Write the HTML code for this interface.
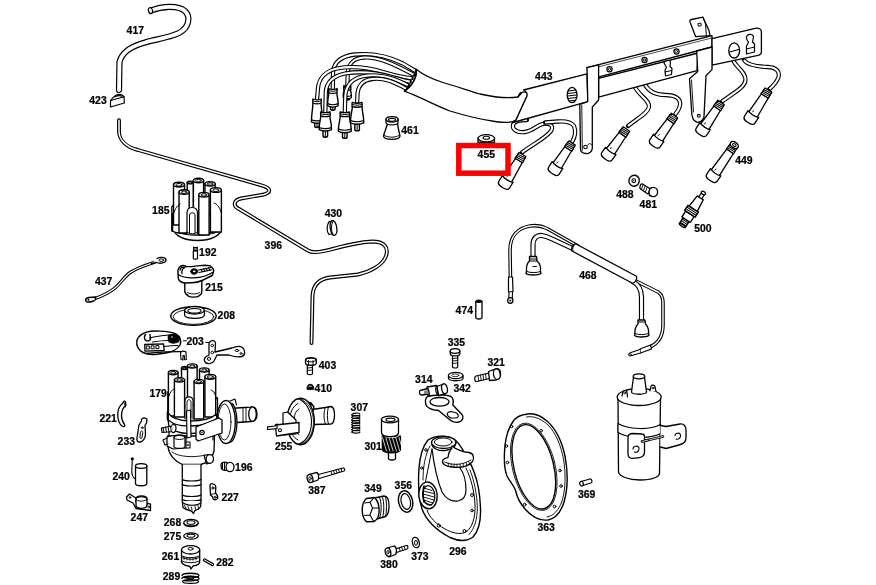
<!DOCTYPE html>
<html><head><meta charset="utf-8">
<style>
html,body{margin:0;padding:0;background:#fff;width:876px;height:585px;overflow:hidden}
svg{display:block}
text{font-family:"Liberation Sans",sans-serif;font-weight:bold;font-size:11.6px;fill:#000;stroke:#000;stroke-width:0.25px;letter-spacing:0px}
#labels{will-change:transform}
</style></head><body>
<svg width="876" height="585" viewBox="0 0 876 585">
<g id="parts" fill="none" stroke="#000" stroke-linejoin="round" stroke-linecap="round" stroke-width="1.2">
<path d="M151,10.5 C162,6 178,5 185,11 C191,17 189,27.5 179,33 C168,38 155,39.5 145,42.5 C132,46 122,51.5 119.5,62 L119,90" stroke-width="6.2" />
<path d="M151,10.5 C162,6 178,5 185,11 C191,17 189,27.5 179,33 C168,38 155,39.5 145,42.5 C132,46 122,51.5 119.5,62 L119,90" stroke="#fff" stroke-width="3.8" stroke-linecap="round"/>

<ellipse cx="150.5" cy="10.6" rx="2" ry="3" transform="rotate(-20 150.5 10.6)" fill="#fff"/>
<path d="M110.5,107 L110.5,100.5 C112,98.5 113.5,97 115.5,95.5 C118,94 121.5,94 124,96.5 L124.3,103 Z" fill="#fff"/>
<path d="M111,100.5 C115,99 120,98 124,97"/>
<path d="M115,96.8 C117.5,95.5 120,95.5 122,96.3"/>
<path d="M119,120.3 L119,132 C119.5,140 126,147 138,150 L263,185.8 C270,188 272,192 264,194.5 L241,198.5 C233,200.5 233,206 239,209 L308,250.5 C312,253 318,253 330,249.7 C345,245.5 362,242 372,241.5 C384,241.5 389,247 386,256 C383,265 370,272 358,274.5 L330,277.5 C319,279 313,285 312.5,296 L311.5,343" stroke-width="3.9" />
<path d="M119,120.3 L119,132 C119.5,140 126,147 138,150 L263,185.8 C270,188 272,192 264,194.5 L241,198.5 C233,200.5 233,206 239,209 L308,250.5 C312,253 318,253 330,249.7 C345,245.5 362,242 372,241.5 C384,241.5 389,247 386,256 C383,265 370,272 358,274.5 L330,277.5 C319,279 313,285 312.5,296 L311.5,343" stroke="#fff" stroke-width="1.5" stroke-linecap="round"/>

<!-- 179.svg -->
<path d="M230,408.5 L251,407 C255,406.5 257,409 257,414 C257,419 255,421.5 251,421.5 L230,423" fill="#fff" stroke-width="1.3"/>
<ellipse cx="252.5" cy="414.2" rx="3.8" ry="7.3" fill="#fff" stroke-width="1.3"/>
<path d="M243,407.5 L243,422.5 M246,407.3 L246,422.2" stroke-width="0.9"/>
<ellipse cx="229" cy="422" rx="8" ry="20.5" fill="#fff" stroke-width="1.3"/>
<ellipse cx="226" cy="422" rx="9.3" ry="21.5" fill="#fff" stroke-width="1.4"/>
<ellipse cx="224.5" cy="422" rx="6.5" ry="18" stroke-width="0.9"/>
<path d="M229,401.5 L235,399 L236.5,405" fill="#fff" stroke-width="1.1"/>
<path d="M167.5,436 L168,447 C169,455 175,461.5 182.3,464.5 L201,464.5 C207,463 212.5,458.5 214,451 L214.5,436 Z" fill="#fff" stroke-width="1.3"/>
<path d="M172,452 C178,457 195,458 205,455" stroke-width="0.9"/>
<path d="M182.3,464.5 L182.3,501 C182.3,503.5 201,503.5 201,501 L201,464.5" fill="#fff" stroke-width="1.3"/>
<path d="M182.3,479.5 C185,481.5 198,481.5 201,479.5 M182.3,484.5 C185,486.5 198,486.5 201,484.5 M182.3,495 C185,497 198,497 201,495 M182.3,499.5 C185,501.5 198,501.5 201,499.5" stroke-width="1.1"/>
<path d="M182.3,501 L183,507.5 C186,510 189,510 191.5,511 L193.5,513.5 L195,510.5 C198,509.5 200.5,508 200.7,506 L201,501" fill="#fff" stroke-width="1.3"/>
<path d="M183.5,503 C187,506 197,506 200.5,503" stroke-width="1.2"/>
<path d="M184.5,505.5 L186,508.5 M188,506.5 L189,509.5 M191.5,507 L192,510 M195,506.5 L195.5,509.5 M198,505.5 L198.5,508" stroke-width="0.9"/>
<path d="M204,455.5 L208,454.5 L211.5,462.5 L206.5,464 Z" fill="#fff" stroke-width="1.2"/>
<ellipse cx="209.8" cy="459" rx="3.7" ry="4.3" fill="#fff" stroke-width="1.3"/>
<path d="M167.8,392 L167.8,420 C170,430 205,432 217.5,420 L217.5,398 Z" fill="#fff" stroke-width="1.3"/>
<path d="M168.5,420 L168.5,424 C170,436 205,437 217.5,425 L217.5,420" fill="#fff" stroke-width="1.3"/>
<path d="M169,430 L169,440 M213,432 L213,440" stroke-width="1.2"/>
<path d="M168.4,372.6 L168.4,416.0 L178.0,416.0 L178.0,372.6" fill="#fff" stroke-width="1.4"/>
<ellipse cx="173.2" cy="372.6" rx="4.8" ry="2.1" fill="#fff" stroke-width="1.4"/>
<ellipse cx="173.2" cy="372.8" rx="2.6" ry="1.2" stroke-width="1"/>
<path d="M181.5,368.0 L181.5,405.0 L188.1,405.0 L188.1,368.0" fill="#fff" stroke-width="1.4"/>
<ellipse cx="184.8" cy="368.0" rx="3.3" ry="1.5" fill="#fff" stroke-width="1.4"/>
<ellipse cx="184.8" cy="368.2" rx="1.8" ry="0.8" stroke-width="1"/>
<path d="M187.5,366.0 L187.5,405.0 L197.1,405.0 L197.1,366.0" fill="#fff" stroke-width="1.4"/>
<ellipse cx="192.3" cy="366.0" rx="4.8" ry="2.1" fill="#fff" stroke-width="1.4"/>
<ellipse cx="192.3" cy="366.2" rx="2.6" ry="1.2" stroke-width="1"/>
<path d="M199.5,370.0 L199.5,408.0 L209.1,408.0 L209.1,370.0" fill="#fff" stroke-width="1.4"/>
<ellipse cx="204.3" cy="370.0" rx="4.8" ry="2.1" fill="#fff" stroke-width="1.4"/>
<ellipse cx="204.3" cy="370.2" rx="2.6" ry="1.2" stroke-width="1"/>
<path d="M204.9,376.8 L204.9,417.0 L215.7,417.0 L215.7,376.8" fill="#fff" stroke-width="1.4"/>
<ellipse cx="210.3" cy="376.8" rx="5.4" ry="2.4" fill="#fff" stroke-width="1.4"/>
<ellipse cx="210.3" cy="377.0" rx="3.0" ry="1.3" stroke-width="1"/>
<path d="M174.4,379.8 L174.4,417.0 L184.6,417.0 L184.6,379.8" fill="#fff" stroke-width="1.4"/>
<ellipse cx="179.5" cy="379.8" rx="5.0" ry="2.2" fill="#fff" stroke-width="1.4"/>
<ellipse cx="179.5" cy="380.0" rx="2.8" ry="1.2" stroke-width="1"/>
<path d="M194.1,381.5 L194.1,419.0 L203.7,419.0 L203.7,381.5" fill="#fff" stroke-width="1.4"/>
<ellipse cx="198.9" cy="381.5" rx="4.8" ry="2.1" fill="#fff" stroke-width="1.4"/>
<ellipse cx="198.9" cy="381.7" rx="2.6" ry="1.2" stroke-width="1"/>
<path d="M169,396 C170,392 172,390 174,389" stroke-width="1"/>
<path d="M216,399 C215.5,394 214,391 211,390" stroke-width="1"/>
<path d="M167.8,412.7 C172,419 182,421 190,421 C200,421 211,419 216.5,413.9 L216.8,418.5 C211,424 200,426 190,426 C181,426 171,424 168,418.7 Z" fill="#fff" stroke-width="1.3"/>
<path d="M167.8,412 L167.8,419" stroke-width="2.2"/>
<path d="M185,419 L185,401 C185,395.5 193,395.5 193,401 L193,419" fill="#fff" stroke-width="1.1"/>
<path d="M187,418 L187,402 C187,399 191,399 191,402 L191,418" stroke-width="0.9"/>
<path d="M186.5,411 L190.5,410 L191,437 L187,438 Z" fill="#fff" stroke-width="1.2"/>
<path d="M196,427 L219,418 L222,420 L222,433 L198,441 L196,439 Z" fill="#fff" stroke-width="1.3"/>
<circle cx="202" cy="432.5" r="2.2" stroke-width="1.2"/>
<circle cx="202" cy="432.5" r="0.7" fill="#000" stroke="none"/>
<path d="M161.5,428 L172,426 L173.5,431.5 L162,432.5 Z" fill="#fff" stroke-width="1.2"/>
<path d="M163,427.5 L164,432.3 M165.5,427 L166.5,432.1 M168,426.7 L169,431.9 M170.5,426.3 L171.3,431.7" stroke-width="1"/>
<path d="M172,425 C174,424 176,424.5 176,428 C176,431.5 174,433 172.5,432.5" fill="#fff" stroke-width="1.2"/>
<path d="M167,437 L173,435.5 L186,436 L186,448 L173,449 L167,446 Z" fill="#fff" stroke-width="1.2"/>
<path d="M174,437.5 C174,434 185,434 185,437.5 L185,446.5 C185,449 174,449 174,446.5 Z" fill="#fff" stroke-width="1.2"/>
<ellipse cx="179.5" cy="437.5" rx="5.5" ry="2" stroke-width="1"/>
<path d="M186,442 L190,442 L190,448 L186,448" stroke-width="1.1"/>
<circle cx="188" cy="445" r="0.9" fill="#000" stroke="none"/>
<path d="M167,438 L163,440 L165,445 L168,444" stroke-width="1.1"/>

<!-- 185.svg -->
<path d="M174,229 C174,236 185,240.5 197.5,240.5 C210,240.5 221,236 221,229 Z" fill="#fff" stroke-width="1.4"/>
<path d="M176,231.5 C184,236.5 210,237 219,231" stroke-width="1"/>
<path d="M172,231 L171.8,207 C175,202 184,199 197,199 C210,199 219,203 221.3,208 L221.3,229 C214,235 180,235 172,231 Z" fill="#fff" stroke-width="1.3"/>
<path d="M172.3,214 L172.3,231" stroke-width="2"/>
<path d="M173.5,184.6 L173.5,225.0 L184.5,225.0 L184.5,184.6" fill="#fff" stroke-width="1.4"/>
<ellipse cx="179.0" cy="184.6" rx="5.5" ry="2.4" fill="#fff" stroke-width="1.4"/>
<ellipse cx="179.0" cy="184.8" rx="3.0" ry="1.3" stroke-width="1"/>
<path d="M187.2,182.5 L187.2,212.0 L193.4,212.0 L193.4,182.5" fill="#fff" stroke-width="1.4"/>
<ellipse cx="190.3" cy="182.5" rx="3.1" ry="1.4" fill="#fff" stroke-width="1.4"/>
<ellipse cx="190.3" cy="182.7" rx="1.7" ry="0.8" stroke-width="1"/>
<path d="M193.4,180.5 L193.4,214.0 L203.6,214.0 L203.6,180.5" fill="#fff" stroke-width="1.4"/>
<ellipse cx="198.5" cy="180.5" rx="5.1" ry="2.2" fill="#fff" stroke-width="1.4"/>
<ellipse cx="198.5" cy="180.7" rx="2.8" ry="1.2" stroke-width="1"/>
<path d="M205.0,183.8 L205.0,214.0 L215.2,214.0 L215.2,183.8" fill="#fff" stroke-width="1.4"/>
<ellipse cx="210.1" cy="183.8" rx="5.1" ry="2.2" fill="#fff" stroke-width="1.4"/>
<ellipse cx="210.1" cy="184.0" rx="2.8" ry="1.2" stroke-width="1"/>
<path d="M210.4,190.0 L210.4,232.0 L221.4,232.0 L221.4,190.0" fill="#fff" stroke-width="1.4"/>
<ellipse cx="215.9" cy="190.0" rx="5.5" ry="2.4" fill="#fff" stroke-width="1.4"/>
<ellipse cx="215.9" cy="190.2" rx="3.0" ry="1.3" stroke-width="1"/>
<path d="M179.0,192.0 L179.0,233.0 L189.2,233.0 L189.2,192.0" fill="#fff" stroke-width="1.4"/>
<ellipse cx="184.1" cy="192.0" rx="5.1" ry="2.2" fill="#fff" stroke-width="1.4"/>
<ellipse cx="184.1" cy="192.2" rx="2.8" ry="1.2" stroke-width="1"/>
<path d="M198.8,194.7 L198.8,235.0 L209.1,235.0 L209.1,194.7" fill="#fff" stroke-width="1.4"/>
<ellipse cx="203.9" cy="194.7" rx="5.2" ry="2.3" fill="#fff" stroke-width="1.4"/>
<ellipse cx="203.9" cy="194.9" rx="2.8" ry="1.2" stroke-width="1"/>
<path d="M173.5,214 C175,208 178,205 180,204" stroke-width="1"/>
<path d="M221,212 C219,206 217,204 214,203" stroke-width="1"/>
<path d="M187,234 L187,213 C187,209 189,207.5 192,207.5 C195,207.5 197.5,209 197.5,213 L197.5,234" fill="#fff" stroke-width="1.2"/>
<path d="M189.5,233 L189.5,215 C189.5,212 195,212 195,215 L195,233" stroke-width="1"/>
<path d="M187,232 C190,234.5 195,234.5 197.5,232" stroke-width="1"/>

<!-- 192_215_208.svg -->
<!-- 192 pin -->
<path d="M193.3,251 L193.3,258.5 C193.3,259.5 197.5,259.5 197.5,258.5 L197.5,251 Z" fill="#fff"/>
<path d="M193.6,247 L193.6,251.5 M197.3,247 L197.3,251.5 M193.6,247.5 L197.3,247.5 M193.6,249 L197.3,249 M193.6,250.5 L197.3,250.5" stroke-width="1"/>
<!-- 215 rotor -->
<path d="M184.8,281 L184.8,292 C185.5,294 187,295 188,295.5 L188,296 C190,297.5 197,297.5 199,296 L199,295.5 C200.5,295 201.8,293.5 201.8,291.5 L201.8,280" fill="#fff" stroke-width="1.4"/>
<path d="M187.5,292.5 C190,294.5 197,294.5 199.5,292.5" stroke-width="1"/>
<path d="M178,272 C177.5,269 179.5,266 182.8,265.5 C184.5,265.3 185.5,266.3 186.4,266.6 L191.4,266.6 L197.1,265.9 L205,265.2 C208,265.2 210,265.5 211,266.5 C213,268 214,270 213.6,271.5 L212.2,275.5 L202.1,280.5 C199,282 196,282.7 192,282.8 L185,283 C181.5,282.5 178.8,281 178.3,278.5 Z" fill="#fff" stroke-width="1.4"/>
<path d="M178.2,274.5 C181,276.5 188,278 194,277.8 C201,277.5 208,275.5 212.5,272.5" stroke-width="1.2"/>
<path d="M180,270 C180.5,267.5 183,266.5 185,267.5 C182.5,268.5 181.5,271 182,273.5" stroke-width="1.3"/>
<path d="M190.8,271.5 C190.5,269.5 192.5,268.7 194.5,268.8 C197,269 198,270.2 197.7,271.8 C197.4,273.5 195.5,274.3 193.5,274.2 C191.8,274 190.9,273 190.8,271.5 Z" fill="#000" stroke-width="1"/>
<ellipse cx="194.2" cy="271.4" rx="1.3" ry="0.8" fill="#fff" stroke="none"/>
<path d="M198.5,270 L211,267.5 M199,272.5 L211.5,269.8" stroke-width="1.1"/>
<path d="M201,269.3 L202.5,271.8 M203.5,268.8 L205,271.3 M206,268.3 L207.5,270.8 M208.5,267.8 L210,270.3" stroke-width="1.1"/>
<!-- 208 disc -->
<ellipse cx="193.5" cy="316" rx="22.7" ry="9.3" fill="#fff" stroke-width="1.4"/>
<ellipse cx="193.5" cy="316.8" rx="20.3" ry="7.6" stroke-width="0.9"/>
<path d="M184.6,315 L184.6,310.5 L204.4,310.5 L204.4,315 C204,319.5 185,319.5 184.6,315 Z" fill="#fff" stroke-width="1.3"/>
<ellipse cx="194.5" cy="310.3" rx="9.9" ry="3.8" fill="#fff" stroke-width="1.3"/>
<ellipse cx="194.5" cy="310.8" rx="6.6" ry="2.3" stroke-width="1.1"/>

<!-- 203.svg -->
<!-- 203 breaker plate -->
<path d="M150.5,331.2 C144,332 138,335.5 136.8,340.8 C136,346 139,350.5 143,352.5 C147,354.5 152,354.8 157,354.3 L166,353 C172,352 177.5,349 180,345 C181.5,341 180.5,336.5 176,334 C172,332 166,331.3 160,331.1 C156,331 153,331 150.5,331.2 Z" fill="#fff" stroke-width="1.4"/>
<path d="M145.5,334.5 C144,336 144,339.5 146,340.5 C148,341.5 150.5,340.5 150.5,338.5 L150,334.5" stroke-width="1.4"/>
<path d="M149.5,338 C155,336.5 162,335.5 169,335 M152.5,342 C158,341 163,340.5 169,340.5" stroke-width="1.2"/>
<path d="M168.3,336 C168.5,334.5 172,334 175,334.5 C178.5,335 179.8,337.5 179.3,340 C178.8,342.5 175,343.2 172,343 C169.5,342.8 168,341 168.3,339 Z" fill="#000" stroke-width="1.2"/>
<circle cx="172" cy="337" r="0.8" fill="#fff" stroke="none"/>
<path d="M144.7,344.5 L163.5,343.8 L164.2,350.5 L145,351.2 Z" fill="#fff" stroke-width="1.3"/>
<rect x="146.7" y="346" width="2.6" height="3" stroke-width="1"/>
<rect x="151.5" y="345.8" width="2.6" height="3" stroke-width="1"/>
<rect x="156.3" y="345.6" width="2.6" height="3" stroke-width="1"/>
<path d="M164,346.5 C168,346 172,345.5 178,345.5" stroke-width="1.1"/>
<path d="M147,353.2 C157,352.5 170,351.5 181,351.7" stroke-width="1.3"/>
<path d="M180.5,352.5 L181,359.5 L183,360 L183,355.5 L184.3,355.5 L184.6,359.8 L186.3,359.5 L186,352 C184.5,351 182,351.2 180.5,352.5 Z" fill="#fff" stroke-width="1.1"/>
<path d="M183.3,340.8 L186.5,340.8 M205.7,342.4 L209,342.4" stroke-width="1"/>
<!-- 203 bracket -->
<path d="M210,342 C211,340 215,340 215.5,343 L215,352 L232,348 C236,346 240,346 242.5,347.5 C245.5,350 245.5,355 242,356.5 C238,357.5 233,356.5 229,355 L217,355 L214,361 C212,364 207,364.5 205,362 C203,359.5 205,356.5 209,355 L209,343 Z" fill="#fff" stroke-width="1.3"/>
<circle cx="212.3" cy="345.5" r="1.3" stroke-width="1"/>
<circle cx="212.3" cy="352.5" r="1.3" stroke-width="1"/>
<ellipse cx="237" cy="350.5" rx="1.8" ry="1" stroke-width="1"/>
<ellipse cx="241" cy="353.5" rx="1.2" ry="0.8" stroke-width="0.9"/>
<circle cx="209" cy="358.8" r="1.6" stroke-width="1"/>

<!-- 255.svg -->
<!-- 403 bolt -->
<path d="M307.3,365 L307.3,373.5 C307.3,375 312.5,375 312.5,373.5 L312.5,365" fill="#fff" stroke-width="1.2"/>
<path d="M307.3,368 L312.5,367.5 M307.3,370.5 L312.5,370" stroke-width="0.9"/>
<path d="M305.5,360 C305.5,357 316.3,357 316.3,360 L316.3,363 C316.3,366 305.5,366 305.5,363 Z" fill="#fff" stroke-width="1.3"/>
<ellipse cx="310.9" cy="360" rx="5.4" ry="1.9" stroke-width="1"/>
<path d="M308.5,360.5 L308.5,365.5 M313,360.5 L313,365.5" stroke-width="0.9"/>
<!-- 410 -->
<path d="M307,389 C306.8,385.5 308.5,384.3 310.3,384.3 C312.2,384.3 313.8,385.5 313.6,389 Z" fill="#000" stroke-width="1"/>
<path d="M308.5,387 C309,386 310.5,385.8 311.5,386.3" stroke="#fff" stroke-width="0.8"/>
<!-- 255 vacuum unit: tube -->
<path d="M312,409.5 L325.5,407.5 L331,406.5 C333.5,407 334.5,411 334.5,415 C334.5,420 333.5,423.5 331,424 L314,424.5" fill="#fff" stroke-width="1.3"/>
<path d="M325.5,407.5 C323.5,410 323.5,421 325.5,424 M328.5,407 C327,410 327,421 328.5,423.8" stroke-width="1"/>
<!-- rear bolts -->
<path d="M307,402 L311,403 L314,407 L313,411" fill="#fff" stroke-width="1.3"/>
<path d="M309,403.5 L311.5,404.5" stroke-width="2"/>
<!-- disc -->
<ellipse cx="300.5" cy="421.5" rx="13.8" ry="23.3" fill="#fff" stroke-width="1.4"/>
<path d="M297.5,398.6 C306,401.5 311.5,411 311.5,422 C311.5,433 306,442.5 297.5,444.5" stroke-width="1.1"/>
<path d="M299.5,398.5 C308,401.5 313.5,411 313.5,422 C313.5,433 308,442.5 299.5,444.6" stroke-width="0.8"/>
<path d="M298,403.5 C292,406.5 289.5,414 289.5,422 C289.5,430 292,437 298,440" stroke-width="1"/>
<path d="M299,409 C295,411 294,416 294,422 C294,428 295,432.5 299,434.5" stroke-width="1"/>
<!-- arm/bracket -->
<path d="M283,413 L287.5,412 L296,420 L296,434 L283,435 Z" fill="#fff" stroke-width="1.2"/>
<path d="M275.3,425 L299,422.5 L299,432.5 L276.5,436 Z" fill="#fff" stroke-width="1.3"/>
<circle cx="280" cy="430.3" r="1.5" stroke-width="1.1"/>
<path d="M275.3,425.5 L277,424 L277,428.7 L267.5,429.5 L267.5,426.8 L275.3,426" fill="#fff" stroke-width="1.2"/>

<!-- 296.svg -->
<!-- 296 housing -->
<path d="M428,440 C423,446 420,455 419,468 C418,482 418.5,497 422,509 C426,520 436,530 450,537.5 C458,541 467,541.5 473,537 C478.5,531 481,520 480.5,508 C480,495 478,482 474,472 C471,464 468,458 465,454 C462,448 458,442 454,439 C447,435 436,435 428,440 Z" fill="#fff" stroke-width="1.4"/>
<!-- inner flange line -->
<path d="M466,468 C471,478 474.5,492 475,505 C475.5,518 472,528 466,532 C460,535 452,533 445,529 C436,524 429,517 427,510" stroke-width="1"/>
<path d="M470,470 C474,480 477,494 477.3,507 C477.5,519 474.5,529 469,534.5" stroke-width="0.9"/>
<!-- left flange inner -->
<path d="M430,446 C425,455 423,467 423,480" stroke-width="0.9"/>
<!-- inner recess -->
<path d="M432,449 C434,465 438,482 442,492 C446,499 451,502 458,501 C463,500 466,496 466,490 C466,480 463,472 460,468" fill="#fff" stroke-width="1.2"/>
<path d="M432,449 L424,489" stroke-width="1"/>
<!-- top boss -->
<path d="M431.5,443 C432,449 440,452 447,450 C452,449 455.5,446 456,443" fill="#fff" stroke-width="1.3"/>
<ellipse cx="443.7" cy="442.5" rx="12.2" ry="6" fill="#fff" stroke-width="1.3"/>
<ellipse cx="443.2" cy="442" rx="8.8" ry="4" stroke-width="1"/>
<!-- sector ear -->
<path d="M452,446 C457,450 463,452 469,452.5 C473.5,453 474.5,458 472.5,461.5 C469,466 461,468 452,467 C446,466.5 442,464 442.5,461 C443,458.5 446,458 448,457.5 C448.5,453 450,450 452,448" fill="#fff" stroke-width="1.3"/>
<path d="M444.5,462 C452,465.5 462,465.5 471,460" stroke-width="0.9"/>
<path d="M448,462.8 L448.5,465.5 M451,463.6 L451.3,466.3 M454,464 L454,466.6 M457,464.2 L457,466.7 M460,464 L460.3,466.5 M463,463.5 L463.5,466 M466,462.5 L466.6,464.9 M468.5,461.3 L469.5,463.5" stroke-width="0.8"/>
<!-- threaded hole -->
<ellipse cx="428" cy="495.4" rx="9.2" ry="13.4" transform="rotate(-6 428 495.4)" fill="#fff" stroke-width="1.4"/>
<ellipse cx="428.8" cy="495.4" rx="6" ry="9.8" transform="rotate(-6 428.8 495.4)" fill="#fff" stroke-width="1.2"/>
<path d="M424,488 L432,490.5 M423.3,491 L433.5,493.5 M423,494 L434,497 M423.2,497 L434,500 M423.8,500 L433,503 M425,503 L431.5,505" stroke-width="0.9"/>
<path d="M424,486 C423,490 422.8,497 424,502" stroke-width="1.6"/>
<!-- bolt holes -->
<circle cx="426" cy="450" r="1.3" stroke-width="1"/>
<circle cx="421.8" cy="468" r="1.2" stroke-width="1"/>
<circle cx="472" cy="495" r="1.5" stroke-width="1"/>
<circle cx="472" cy="510.5" r="1.3" stroke-width="1"/>
<circle cx="438.8" cy="525.5" r="1.6" stroke-width="1"/>
<circle cx="464.5" cy="531" r="1.5" stroke-width="1"/>

<!-- 307_301.svg -->
<!-- 307 spring -->
<path d="M351.8,415.0 C352.5,413.0 359,412.3 359.8,414.0" stroke-width="1.1"/>
<path d="M351.8,415.0 C352.5,416.4 358.5,416.1 359.8,415.2" stroke-width="1.2"/>
<path d="M351.8,417.4 C352.5,415.4 359,414.8 359.8,416.4" stroke-width="1.1"/>
<path d="M351.8,417.4 C352.5,418.9 358.5,418.6 359.8,417.7" stroke-width="1.2"/>
<path d="M351.8,419.9 C352.5,417.9 359,417.2 359.8,418.9" stroke-width="1.1"/>
<path d="M351.8,419.9 C352.5,421.3 358.5,421.0 359.8,420.1" stroke-width="1.2"/>
<path d="M351.8,422.4 C352.5,420.4 359,419.7 359.8,421.4" stroke-width="1.1"/>
<path d="M351.8,422.4 C352.5,423.8 358.5,423.5 359.8,422.6" stroke-width="1.2"/>
<path d="M351.8,424.8 C352.5,422.8 359,422.1 359.8,423.8" stroke-width="1.1"/>
<path d="M351.8,424.8 C352.5,426.2 358.5,425.9 359.8,425.0" stroke-width="1.2"/>
<path d="M351.8,427.2 C352.5,425.2 359,424.6 359.8,426.2" stroke-width="1.1"/>
<path d="M351.8,427.2 C352.5,428.7 358.5,428.4 359.8,427.5" stroke-width="1.2"/>
<path d="M351.8,429.7 C352.5,427.7 359,427.0 359.8,428.7" stroke-width="1.1"/>
<path d="M351.8,429.7 C352.5,431.1 358.5,430.8 359.8,429.9" stroke-width="1.2"/>
<path d="M351.8,432.1 C352.5,430.1 359,429.4 359.8,431.1" stroke-width="1.1"/>
<path d="M351.8,432.1 C352.5,433.6 358.5,433.2 359.8,432.4" stroke-width="1.2"/>
<!-- 301 gear -->
<path d="M388.5,450 L388.5,458.5 C388.5,460.5 395.5,460.5 395.5,458.5 L395.5,450" fill="#fff" stroke-width="1.3"/>
<path d="M382.3,436 L382.3,450 C385,454 398,454 400.5,450 L400.5,436 Z" fill="#000" stroke-width="1.2"/>
<path d="M382.5,437.5 L386.5,451" stroke="#fff" stroke-width="0.8"/>
<path d="M385.8,437.5 L389.8,451" stroke="#fff" stroke-width="0.8"/>
<path d="M389.1,437.5 L393.1,451" stroke="#fff" stroke-width="0.8"/>
<path d="M392.4,437.5 L396.4,451" stroke="#fff" stroke-width="0.8"/>
<path d="M395.7,437.5 L399.7,451" stroke="#fff" stroke-width="0.8"/>
<path d="M399.0,437.5 L403.0,451" stroke="#fff" stroke-width="0.8"/>
<path d="M384,435.5 C387,438.5 396,438.5 399,435.5" stroke="#fff" stroke-width="0.9"/>
<path d="M381.5,419.5 L381.5,432.5 C381.5,438 398.5,438 398.5,432.5 L398.5,419.5" fill="#fff" stroke-width="1.3"/>
<ellipse cx="390" cy="419.5" rx="8.5" ry="3.4" fill="#fff" stroke-width="1.3"/>
<ellipse cx="390.5" cy="419.8" rx="4.6" ry="1.7" stroke-width="1.1"/>

<!-- 314_etc.svg -->
<!-- 474 -->
<path d="M475.8,301.5 L475.8,317.5 C475.8,319.5 482,319.5 482,317.5 L482,301.5" fill="#fff" stroke-width="1.3"/>
<ellipse cx="478.9" cy="301.3" rx="3.1" ry="1.3" fill="#000" stroke-width="1"/>
<!-- 335 bolt -->
<path d="M452.5,355 L452.5,366.5 C452.5,368.5 457.7,368.5 457.7,366.5 L457.7,355" fill="#fff" stroke-width="1.2"/>
<path d="M452.5,358.5 L457.7,358 M452.5,361 L457.7,360.5 M452.5,363.5 L457.7,363" stroke-width="0.9"/>
<path d="M450.3,351 L450.3,354 C450.3,356.5 459.8,356.5 459.8,354 L459.8,351" fill="#fff" stroke-width="1.3"/>
<ellipse cx="455" cy="351" rx="4.8" ry="2.3" fill="#fff" stroke-width="1.3"/>
<!-- 342 washer -->
<path d="M448.5,376 L448.5,378.5 C449,381.5 462.5,381.5 463,378.5 L463,376" fill="#fff" stroke-width="1.3"/>
<ellipse cx="455.7" cy="375.5" rx="7.3" ry="3.2" fill="#fff" stroke-width="1.3"/>
<ellipse cx="455.3" cy="375.3" rx="3.6" ry="1.4" stroke-width="0.8"/>
<!-- 321 bolt -->
<path d="M476,376 L489,373 L490,378.5 L476.5,381.5 C474.5,381.8 474,376.5 476,376 Z" fill="#fff" stroke-width="1.2"/>
<path d="M478,376 L478.8,381.2 M480.5,375.4 L481.3,380.6 M483,374.8 L483.8,380 M485.5,374.2 L486.3,379.4" stroke-width="0.9"/>
<path d="M488.5,371.5 L496,368.8 C499.5,368 501,371 500.5,375 C500,378 498.5,379.5 496,380 L489.5,380.5 Z" fill="#fff" stroke-width="1.3"/>
<ellipse cx="496.8" cy="374.2" rx="3.3" ry="5.3" transform="rotate(-10 496.8 374.2)" fill="#fff" stroke-width="1.3"/>
<!-- 314 sensor plate -->
<path d="M427,397 C431,394.5 446,394 451,396.5 C454,398.5 453.5,402 452.8,405 L462,414.5 C464,417 463,421 459,422 C455,423 452,422 449.5,419.5 L438.5,410.5 C433,410 427.5,408.5 426,405 C425,401.5 425.5,398.5 427,397 Z" fill="#fff" stroke-width="1.4"/>
<ellipse cx="439.5" cy="401.8" rx="9.6" ry="4.3" stroke-width="1.3"/>
<path d="M447.5,413 C449,411 453,411.5 456.5,413 C459,415 459,417.5 456,418 L451,418 C448.5,417 446.5,415 447.5,413 Z" stroke-width="1.2"/>
<!-- 314 cylinder -->
<path d="M437,386.5 L443.5,384 L445,394 L438.5,395.5 Z" fill="#fff" stroke-width="1.3"/>
<ellipse cx="444.5" cy="388.8" rx="2.8" ry="5" transform="rotate(-12 444.5 388.8)" fill="#fff" stroke-width="1.3"/>
<path d="M427,387 L436.5,385.5 L438,395 L428,396 Z" fill="#fff" stroke-width="1.3"/>
<path d="M436.8,385.5 C435,388 435.5,392.5 437.5,395" stroke-width="1.1"/>
<path d="M420,390.5 L428,388.5 L429.5,394 L421.5,395 C419.5,395.5 419,391.5 420,390.5 Z" fill="#fff" stroke-width="1.3"/>
<path d="M425,391 L425,393.5 M427,390.5 L427,393" stroke-width="0.9"/>

<!-- 363.svg -->
<!-- 363 gasket -->
<path d="M525,414.5 C532,412.5 540,415 547,421 C556,429 562,442 565,456 C568,472 567.5,490 564,502 C561,512 555,518.5 548,520 C540,521 532,517 525,509 C520,503 517,497 516,492 C514.5,486 510,482 507,476 C504.5,470 504,462 504.5,452 C505,440 508,428 514,420 C517,417 521,415 525,414.5 Z" fill="#fff" stroke-width="1.4"/>
<path d="M526.5,417 C533,415.5 541,418.5 548,425 C556,433 561,446 563.5,459 C566,474 565.5,490 562,501 C559,510 553.5,516 547,517" stroke-width="0.9"/>
<ellipse cx="533.8" cy="466.8" rx="19.8" ry="43.2" transform="rotate(-14 533.8 466.8)" fill="#fff" stroke-width="1.4"/>
<ellipse cx="533.8" cy="466.8" rx="21.3" ry="44.7" transform="rotate(-14 533.8 466.8)" stroke-width="0.8"/>
<circle cx="511.5" cy="426.5" r="1.3" stroke-width="1"/>
<circle cx="506.3" cy="446" r="1.3" stroke-width="1"/>
<circle cx="507.5" cy="462.5" r="1.3" stroke-width="1"/>
<circle cx="541.2" cy="430.7" r="1.3" stroke-width="1"/>
<circle cx="560" cy="470.5" r="1.3" stroke-width="1"/>
<circle cx="561" cy="486" r="1.3" stroke-width="1"/>
<circle cx="554.5" cy="506.5" r="1.3" stroke-width="1"/>
<circle cx="524.7" cy="504.5" r="1.3" stroke-width="1"/>

<!-- 369.svg -->
<!-- 369 pin -->
<path d="M581,481.5 L590,479 C592,478.5 592.7,482.5 590.8,483 L582,485.7" fill="#fff" stroke-width="1.2"/>
<ellipse cx="581.5" cy="483.7" rx="1.8" ry="2.3" transform="rotate(-15 581.5 483.7)" fill="#fff" stroke-width="1.2"/>

<!-- 387_349.svg -->
<!-- 387 bolt -->
<path d="M316.5,475 L343,468 C344.5,467.6 345.3,470.5 344,471 L317.5,479" fill="#fff" stroke-width="1.2"/>
<path d="M331,471.5 L332,474.5 M333.5,470.8 L334.5,473.8 M336,470.2 L337,473.2 M338.5,469.5 L339.5,472.5 M341,468.8 L342,471.8" stroke-width="0.9"/>
<path d="M309,474.5 L316,472.5 C318.5,472.5 319.5,477.5 318,480 L311,482.5" fill="#fff" stroke-width="1.3"/>
<ellipse cx="310" cy="478.5" rx="2.8" ry="4.1" transform="rotate(-15 310 478.5)" fill="#fff" stroke-width="1.3"/>
<ellipse cx="310" cy="478.5" rx="1.2" ry="1.8" stroke-width="0.9"/>
<!-- 349 plug -->
<path d="M372,498.5 L384,496 C387.5,496 389,500 389,506 C389,512 387.5,516.5 384,517 L373,520" fill="#fff" stroke-width="1.3"/>
<path d="M379.5,497.5 C381.5,501 382,513 379.5,518 M382.5,497 C384,502 384.5,512 382.5,517.5 M385.5,496.5 C386.8,502 387,511 385.5,516.8" stroke-width="1"/>
<path d="M366.5,498.5 L374.5,497.5 C378,501 379.5,507 379,513 C378.5,517 377,520 374,521.5 L366.5,521.8 C363,518.5 362,513 362.3,508 C362.7,503.5 364.5,500 366.5,498.5 Z" fill="#fff" stroke-width="1.4"/>
<path d="M364.5,503 L370,502.3 L372.5,508 L370,515 L364.5,515.5 M372.5,508 L378.8,508 M370,502.3 L373.5,498 M370,515 L373.5,521.3" stroke-width="1.1"/>
<!-- 356 ring -->
<ellipse cx="405.6" cy="501.5" rx="7" ry="10.8" transform="rotate(-12 405.6 501.5)" fill="#fff" stroke-width="1.4"/>
<ellipse cx="405.8" cy="501.5" rx="4.6" ry="8" transform="rotate(-12 405.8 501.5)" stroke-width="1.2"/>
<!-- 380 bolt -->
<path d="M394,549.5 L406.5,545.5 C408,545 408.5,548.5 407,549 L395,553" fill="#fff" stroke-width="1.2"/>
<path d="M399,547.5 L400,550.5 M401.5,546.8 L402.5,549.8 M404,546 L405,549" stroke-width="0.9"/>
<path d="M387.5,548 L394,546 C396.5,546.5 397.3,552 395.5,554.5 L389,557" fill="#fff" stroke-width="1.3"/>
<ellipse cx="388" cy="552.2" rx="2.7" ry="4.3" transform="rotate(-15 388 552.2)" fill="#fff" stroke-width="1.3"/>
<ellipse cx="388" cy="552.2" rx="1.1" ry="1.8" stroke-width="0.9"/>
<!-- 373 washer -->
<ellipse cx="415.8" cy="542.5" rx="3.4" ry="5.3" transform="rotate(-15 415.8 542.5)" fill="#fff" stroke-width="1.3"/>
<ellipse cx="416" cy="542.8" rx="1.5" ry="2.5" stroke-width="1"/>

<!-- 437.svg -->
<path d="M154,262.5 C146,265 138,267.5 131,272 C124,276.5 121,283 115,288 C109,293 102,296 95,298.5" stroke-width="3.3"/>
<path d="M154,262.5 C146,265 138,267.5 131,272 C124,276.5 121,283 115,288 C109,293 102,296 95,298.5" stroke="#fff" stroke-width="1.2"/>
<path d="M157,258.5 C160,256.5 166,257 166,260 C166,263 160,264 156.5,262.5 L151.5,263.5" fill="#fff" stroke-width="1.3"/>
<ellipse cx="161.3" cy="260.2" rx="2.3" ry="1.3" stroke-width="1"/>
<path d="M95.5,297 L89,297.5 C85,298 84.5,301.5 88,302 C91,302.3 95,300.5 95.5,299.5 Z" fill="#fff" stroke-width="1.5"/>
<circle cx="88.5" cy="299.7" r="1" fill="#000" stroke="none"/>

<!-- 468.svg -->
<!-- 468 cable -->
<path d="M510.5,282 L510,250 C510,236 518,228 530,226 C537,225 542,226 547,228.5 L578,246" stroke-width="3.6"/>
<path d="M510.5,282 L510,250 C510,236 518,228 530,226 C537,225 542,226 547,228.5 L578,246" stroke="#fff" stroke-width="1.4" stroke-linecap="butt"/>
<path d="M533,258 L533,245 C533,238 537,235 542,235.5 C545,236 548,237 551,238.5 L578,251" stroke-width="5.2"/>
<path d="M533,258 L533,245 C533,238 537,235 542,235.5 C545,236 548,237 551,238.5 L578,251" stroke="#fff" stroke-width="2.9" stroke-linecap="butt"/>
<path d="M630,278 L658,292 C662,294.5 663,298 663,303 L663,325 C663,336 659,343 650,347" stroke-width="3.6"/>
<path d="M630,278 L658,292 C662,294.5 663,298 663,303 L663,325 C663,336 659,343 650,347" stroke="#fff" stroke-width="1.4" stroke-linecap="butt"/>
<path d="M632,281 C638,284 641.5,289 641.5,297 L641.5,321" stroke-width="5.2"/>
<path d="M632,281 C638,284 641.5,289 641.5,297 L641.5,321" stroke="#fff" stroke-width="2.9" stroke-linecap="butt"/>
<path d="M576,244 L636,276 C638,277.5 635,284 632,283 L572,251 C570.5,249 573.5,243 576,244 Z" fill="#fff" stroke-width="1.3"/>
<path d="M575,244.5 C573,246 572,249 573,251" stroke-width="1"/>
<path d="M529.5,256.5 L536.5,256.5 L537,261 C540,263 541,268 540.5,271 L541,273.5 C538,275.5 528.5,275.5 526,273.5 L526.5,271 C526,268 527,263 529.5,261 Z" fill="#fff" stroke-width="1.3"/>
<path d="M529.5,259 L537,259 M529.5,261 L537,261 M526.8,271.5 C530,273 537,273 540.5,271.5" stroke-width="1"/>
<path d="M533,266.5 L536.5,266.5" stroke-width="1"/>
<path d="M638,320 L645,320 L645.5,324 C648,326 649,331 648.5,333 L649,335.5 C646,337.5 637,337.5 634.5,335.5 L635,333 C634.5,331 635.5,326 638,324 Z" fill="#fff" stroke-width="1.3"/>
<path d="M638,322 L645.5,322 M635,333.5 C638,335 645,335 648.5,333.5" stroke-width="1"/>
<path d="M508.5,277 L512.5,277 L513,291.5 L508.5,292 Z" fill="#fff" stroke-width="1.2"/>
<path d="M509,292 L508.8,298 M512.5,292 L512.3,298" stroke-width="1.1"/>
<ellipse cx="510.3" cy="300.5" rx="2.6" ry="2.8" fill="#fff" stroke-width="1.3"/>
<circle cx="510.3" cy="300.5" r="1" fill="#000" stroke="none"/>
<path d="M650.5,345 L640,349 L640.5,353 L651.5,349 Z" fill="#fff" stroke-width="1.2"/>
<path d="M640,349.5 L631,352.5 C628.5,353 628,355.5 630,356 L640.5,353" fill="#fff" stroke-width="1.2"/>
<circle cx="631" cy="354.2" r="0.8" fill="#000" stroke="none"/>

<!-- coil.svg -->
<!-- coil body -->
<path d="M618,398 L618.5,472 C619,476 628,480 640,480 C652,480 659.5,477 659.5,473 L660.5,398" fill="#fff" stroke-width="1.3"/>
<ellipse cx="639.2" cy="397" rx="22" ry="8.5" fill="#fff" stroke-width="1.3"/>
<!-- tower -->
<path d="M633.5,377 L631.5,392 C632,395 646,395 646.5,392 L644.5,377 Z" fill="#fff" stroke-width="1.3"/>
<ellipse cx="639" cy="376.3" rx="5.8" ry="2.5" fill="#fff" stroke-width="1.3"/>
<!-- terminals -->
<path d="M622,396 L623,391.5 C624,390 626.5,390.5 627,392 L627.5,397" fill="#fff" stroke-width="1.2"/>
<ellipse cx="624.8" cy="393" rx="1.2" ry="0.8" stroke-width="0.8"/>
<path d="M650,391 L651,386 C652,384.5 654.5,385 655,386.5 L656,391.5" fill="#fff" stroke-width="1.2"/>
<ellipse cx="653" cy="388" rx="1.2" ry="0.8" stroke-width="0.8"/>
<!-- clamp band -->
<path d="M618,423.5 C628,429.5 650,430.5 660.5,424.5 L660.5,433.5 C650,439 628,438.5 618,432.5 Z" fill="#fff" stroke-width="1.2"/>
<!-- right bracket -->
<path d="M660.5,425.5 L666,426.5 L680,424 C684,423.5 686,426.5 686,430 L686,438 C686,441.5 683,444 679,445 L666,448.5 L660.5,447" fill="#fff" stroke-width="1.3"/>
<path d="M675,435.5 C675,433 680,432 680.5,435 C681,437.5 678.5,440 676,439" stroke-width="1.1"/>
<!-- bolt -->
<path d="M642,441.5 L663,436.5" stroke-width="2.6"/>
<path d="M642,441.5 L663,436.5" stroke="#fff" stroke-width="0.8"/>
<!-- left bracket -->
<path d="M628,437.5 C628,434.5 630,433.5 633,433.5 L642,434 C643.5,434 644.5,435 644.5,437 L644.5,452 C644.5,455.5 642,457.5 638,457.8 L632,458.3 C629.5,458.5 628,456.5 628,454 Z" fill="#fff" stroke-width="1.3"/>
<path d="M633,449 C633,446 638,445 639,448 C639.5,451 637,453 634.5,452" stroke-width="1.1"/>
<path d="M642,441.5 L648,440" stroke-width="2.6"/>
<path d="M642.5,441.4 L648,440.1" stroke="#fff" stroke-width="0.8"/>

<!-- harness.svg -->
<!-- harness -->
<path d="M332.8,89 L333,72 C334,62 342,56 355,54.5 C372,53 390,57 403,63.5 L415.3,70.9" stroke-width="4.3"/>
<path d="M332.8,89 L333,72 C334,62 342,56 355,54.5 C372,53 390,57 403,63.5 L415.3,70.9" stroke="#fff" stroke-width="2.1" stroke-linecap="butt"/>
<path d="M347.3,86 L347.8,72 C348.5,63 355,58 364,57.5 C378,57 392,63 413.4,74.6" stroke-width="4.3"/>
<path d="M347.3,86 L347.8,72 C348.5,63 355,58 364,57.5 C378,57 392,63 413.4,74.6" stroke="#fff" stroke-width="2.1" stroke-linecap="butt"/>
<path d="M330.5,105.3 L330.5,108.8 C330.5,110.8 335.1,110.8 335.1,108.8 L335.1,105.3" fill="#fff" stroke-width="1.4"/>
<path d="M332.8,107.3 L332.8,109.8" stroke-width="1"/>
<path d="M328.8,92.5 C328.6,97.5 327.6,98.3 327.6,104.3 L327.6,105.8 C329.8,107.5 335.8,107.5 338.1,105.8 L338.1,104.3 C338.1,98.3 337.1,97.5 336.8,92.5 Z" fill="#fff" stroke-width="1.4"/>
<path d="M327.6,103.5 C329.8,105.1 335.8,105.1 338.1,103.5" stroke-width="1.1"/>
<path d="M328.6,88.5 L328.6,92.5 C330.8,93.5 334.8,93.5 337.1,92.5 L337.1,88.5 C334.8,89.5 330.8,89.5 328.6,88.5 Z" fill="#fff" stroke-width="1.3"/>
<path d="M328.6,90.5 C330.8,91.5 334.8,91.5 337.1,90.5" stroke-width="1"/>
<path d="M345.0,97.0 L345.0,98.5 C345.0,100.5 349.6,100.5 349.6,98.5 L349.6,97.0" fill="#fff" stroke-width="1.4"/>
<path d="M347.3,99.0 L347.3,99.5" stroke-width="1"/>
<path d="M344.0,89.5 C343.8,94.5 343.3,90.0 343.3,96.0 L343.3,97.5 C344.3,99.2 350.3,99.2 351.3,97.5 L351.3,96.0 C351.3,90.0 350.8,94.5 350.6,89.5 Z" fill="#fff" stroke-width="1.4"/>
<path d="M343.3,95.2 C344.3,96.8 350.3,96.8 351.3,95.2" stroke-width="1.1"/>
<path d="M343.8,85.5 L343.8,89.5 C345.3,90.5 349.3,90.5 350.8,89.5 L350.8,85.5 C349.3,86.5 345.3,86.5 343.8,85.5 Z" fill="#fff" stroke-width="1.3"/>
<path d="M343.8,87.5 C345.3,88.5 349.3,88.5 350.8,87.5" stroke-width="1"/>
<path d="M317,99.5 L318,88 C319,78 326,71 337,68.5 C352,65.5 370,68 385,72.5 C395,75.5 403,77.5 411.6,78.1" stroke-width="4.3"/>
<path d="M317,99.5 L318,88 C319,78 326,71 337,68.5 C352,65.5 370,68 385,72.5 C395,75.5 403,77.5 411.6,78.1" stroke="#fff" stroke-width="2.1" stroke-linecap="butt"/>
<path d="M314.7,121.5 L314.7,126.0 C314.7,128.0 319.3,128.0 319.3,126.0 L319.3,121.5" fill="#fff" stroke-width="1.4"/>
<path d="M317.0,123.5 L317.0,127.0" stroke-width="1"/>
<path d="M313.0,103.0 C312.8,108.0 311.5,114.5 311.5,120.5 L311.5,122.0 C314.0,123.7 320.0,123.7 322.5,122.0 L322.5,120.5 C322.5,114.5 321.2,108.0 321.0,103.0 Z" fill="#fff" stroke-width="1.4"/>
<path d="M311.5,119.7 C314.0,121.3 320.0,121.3 322.5,119.7" stroke-width="1.1"/>
<path d="M312.8,99.0 L312.8,103.0 C315.0,104.0 319.0,104.0 321.2,103.0 L321.2,99.0 C319.0,100.0 315.0,100.0 312.8,99.0 Z" fill="#fff" stroke-width="1.3"/>
<path d="M312.8,101.0 C315.0,102.0 319.0,102.0 321.2,101.0" stroke-width="1"/>
<path d="M325.3,112 L325.8,92 C326.5,82 333,76 345,73.5 C360,71 378,73 392,77 C399,79 404,80.5 409.7,81.6" stroke-width="4.3"/>
<path d="M325.3,112 L325.8,92 C326.5,82 333,76 345,73.5 C360,71 378,73 392,77 C399,79 404,80.5 409.7,81.6" stroke="#fff" stroke-width="2.1" stroke-linecap="butt"/>
<path d="M344.8,112 L345.3,96 C346,86 352,79 362,76.5 C376,73.5 390,77 400,81.5 L407.8,85.1" stroke-width="4.3"/>
<path d="M344.8,112 L345.3,96 C346,86 352,79 362,76.5 C376,73.5 390,77 400,81.5 L407.8,85.1" stroke="#fff" stroke-width="2.1" stroke-linecap="butt"/>
<path d="M357.1,102.5 L357.6,93 C358.5,85 364,80 372,79 C384,77.5 394,82 406,88.6" stroke-width="4.3"/>
<path d="M357.1,102.5 L357.6,93 C358.5,85 364,80 372,79 C384,77.5 394,82 406,88.6" stroke="#fff" stroke-width="2.1" stroke-linecap="butt"/>
<path d="M323.0,129.2 L323.0,135.7 C323.0,137.7 327.6,137.7 327.6,135.7 L327.6,129.2" fill="#fff" stroke-width="1.4"/>
<path d="M325.3,131.2 L325.3,136.7" stroke-width="1"/>
<path d="M320.8,115.8 C320.6,120.8 319.2,122.2 319.2,128.2 L319.2,129.7 C322.3,131.4 328.3,131.4 331.4,129.7 L331.4,128.2 C331.4,122.2 330.1,120.8 329.8,115.8 Z" fill="#fff" stroke-width="1.4"/>
<path d="M319.2,127.4 C322.3,129.0 328.3,129.0 331.4,127.4" stroke-width="1.1"/>
<path d="M320.6,111.8 L320.6,115.8 C323.3,116.8 327.3,116.8 330.1,115.8 L330.1,111.8 C327.3,112.8 323.3,112.8 320.6,111.8 Z" fill="#fff" stroke-width="1.3"/>
<path d="M320.6,113.8 C323.3,114.8 327.3,114.8 330.1,113.8" stroke-width="1"/>
<path d="M342.5,130.9 L342.5,136.9 C342.5,138.9 347.1,138.9 347.1,136.9 L347.1,130.9" fill="#fff" stroke-width="1.4"/>
<path d="M344.8,132.9 L344.8,137.9" stroke-width="1"/>
<path d="M340.3,115.8 C340.1,120.8 338.4,123.9 338.4,129.9 L338.4,131.4 C341.8,133.1 347.8,133.1 351.2,131.4 L351.2,129.9 C351.2,123.9 349.6,120.8 349.3,115.8 Z" fill="#fff" stroke-width="1.4"/>
<path d="M338.4,129.1 C341.8,130.7 347.8,130.7 351.2,129.1" stroke-width="1.1"/>
<path d="M340.1,111.8 L340.1,115.8 C342.8,116.8 346.8,116.8 349.6,115.8 L349.6,111.8 C346.8,112.8 342.8,112.8 340.1,111.8 Z" fill="#fff" stroke-width="1.3"/>
<path d="M340.1,113.8 C342.8,114.8 346.8,114.8 349.6,113.8" stroke-width="1"/>
<path d="M354.8,122.4 L354.8,129.4 C354.8,131.4 359.4,131.4 359.4,129.4 L359.4,122.4" fill="#fff" stroke-width="1.4"/>
<path d="M357.1,124.4 L357.1,130.4" stroke-width="1"/>
<path d="M352.4,106.4 C352.1,111.4 350.5,115.4 350.5,121.4 L350.5,122.9 C354.1,124.6 360.1,124.6 363.7,122.9 L363.7,121.4 C363.7,115.4 362.1,111.4 361.9,106.4 Z" fill="#fff" stroke-width="1.4"/>
<path d="M350.5,120.6 C354.1,122.2 360.1,122.2 363.7,120.6" stroke-width="1.1"/>
<path d="M352.1,102.4 L352.1,106.4 C355.1,107.4 359.1,107.4 362.1,106.4 L362.1,102.4 C359.1,103.4 355.1,103.4 352.1,102.4 Z" fill="#fff" stroke-width="1.3"/>
<path d="M352.1,104.4 C355.1,105.4 359.1,105.4 362.1,104.4" stroke-width="1"/>
<path d="M634.5,86 C638,95 650,100 649,107 C648,113 638,118 628,126" stroke-width="4.3"/>
<path d="M634.5,86 C638,95 650,100 649,107 C648,113 638,118 628,126" stroke="#fff" stroke-width="2.1" stroke-linecap="butt"/>
<path d="M644,83 C648,91 656,95 665,95 C676,95 681,99 680,105 C679.5,109 677,112 675,114.5" stroke-width="4.3"/>
<path d="M644,83 C648,91 656,95 665,95 C676,95 681,99 680,105 C679.5,109 677,112 675,114.5" stroke="#fff" stroke-width="2.1" stroke-linecap="butt"/>
<path d="M733.5,61 C737,68 746,72 745.5,80 C745,87 735,92 722,101.5" stroke-width="4.3"/>
<path d="M733.5,61 C737,68 746,72 745.5,80 C745,87 735,92 722,101.5" stroke="#fff" stroke-width="2.1" stroke-linecap="butt"/>
<path d="M744,60 C747,65 756,66.5 768,67 C776,67.5 780,71 778.5,77 C777,82 773,86 769.5,89" stroke-width="4.3"/>
<path d="M744,60 C747,65 756,66.5 768,67 C776,67.5 780,71 778.5,77 C777,82 773,86 769.5,89" stroke="#fff" stroke-width="2.1" stroke-linecap="butt"/>
<path d="M522,152.5 C530,146 546,138 551,131 C555,125 548,122 541,124.5 C536,126.5 532,131 525,132 C518,133 512,130 513,125 C514,121 520,120 527,120" stroke-width="4.3"/>
<path d="M522,152.5 C530,146 546,138 551,131 C555,125 548,122 541,124.5 C536,126.5 532,131 525,132 C518,133 512,130 513,125 C514,121 520,120 527,120" stroke="#fff" stroke-width="2.1" stroke-linecap="butt"/>
<path d="M572,142 C575,137 576,131 574,126 C571,122 565,121 558,121.5 L545,122.5" stroke-width="4.3"/>
<path d="M572,142 C575,137 576,131 574,126 C571,122 565,121 558,121.5 L545,122.5" stroke="#fff" stroke-width="2.1" stroke-linecap="butt"/>
<path d="M416,69.2 C425,76 435,80 443,82.5 C455,86 470,91 480,94 C495,97.5 508,98.5 518,97 L522,92.5 C526,91 528.5,93 527,96 L516,120 C512,123 505,123 495,121.5 C478,119 463,115 450,111 C437,106 420,97 404.4,91.2 C413,86 417.5,76 416,69.2 Z" fill="#fff" stroke-width="1.3"/>
<path d="M416,69.2 C417.5,76 413,85 404.4,91.2" stroke-width="1.4"/>
<path d="M518,97 C519,94 520.5,92 522,92.5" stroke-width="1.1"/>
<path d="M523.5,90 L587,73.9 L587.8,101.7 L513,122.5 L516,120 L527,96 C528,94 526,91 523.5,90 Z" fill="#fff" stroke-width="1.3"/>
<ellipse cx="572.1" cy="95" rx="4.9" ry="7.6" fill="#fff" stroke-width="1.3"/>
<path d="M568.3,91 L575.7,90 M567.6,93.5 L576.5,92.5 M567.6,96 L576.5,95 M568,98.5 L576,97.5 M569,101 L575,100.3" stroke-width="1.1"/>
<path d="M587,67.6 L712,35.7 L712,47 L589.6,79.3 Z" fill="#fff" stroke-width="1.3"/>
<path d="M588,69.5 L711,38.2" stroke-width="0.7"/>
<circle cx="609.5" cy="69.3" r="2.6" fill="#fff" stroke-width="1.2"/>
<circle cx="609.5" cy="69.3" r="1.1" stroke-width="0.9"/>
<circle cx="644.5" cy="60" r="2.6" fill="#fff" stroke-width="1.2"/>
<circle cx="644.5" cy="60" r="1.1" stroke-width="0.9"/>
<circle cx="676.5" cy="51.5" r="2.6" fill="#fff" stroke-width="1.2"/>
<circle cx="676.5" cy="51.5" r="1.1" stroke-width="0.9"/>
<path d="M598.6,78.4 L698,53 L697,70.6 L598.6,97.2 Z" fill="#fff" stroke-width="1.3"/>
<path d="M664,63 C664,60.5 670,59.5 670.5,62 L670,66.5 L672,68.5 L671.5,74.5 L665.5,76 L665,70 L666.5,67.5 Z" fill="#fff" stroke-width="1.2"/>
<path d="M665,72 L671.5,70.5" stroke-width="1"/>
<path d="M712,38.6 L755.2,28.3 C759,27.5 761.4,29 761.4,32 L761.4,51.5 C761.4,53.5 760,55 758,55.3 L712,65.2 Z" fill="#fff" stroke-width="1.3"/>
<ellipse cx="734.2" cy="50.4" rx="5.4" ry="7.6" fill="#fff" stroke-width="1.3"/>
<path d="M729.5,52 L738.8,49.5" stroke-width="1.1"/>
<path d="M746.5,38.5 C745.5,34 753,32.5 753.5,37 L752.5,42 L754.5,44 L754.5,52 L746.5,54 L746.5,46 L748.5,42.5 Z" fill="#fff" stroke-width="1.2"/>
<path d="M746.5,49 L754.5,47" stroke-width="1"/>
<path d="M587,67.6 L598.6,64.8 L598.6,100 L592.3,107 L592.3,148.4 C592,152 589,154 585.5,153.5 C582,153 580.5,151 580.5,149 L579.8,104.4 L587.8,101.7 Z" fill="#fff" stroke-width="1.3"/>
<path d="M581.8,105 L582.3,150" stroke-width="0.9"/>
<circle cx="585.5" cy="147" r="1.8" fill="#fff" stroke-width="1.1"/>
<path d="M588,145 C588.5,143 591,143 591.5,145" stroke-width="1"/>
<path d="M696.7,51 L712,47 L712,69.6 L706,75.7 L704,116.8 C703,121 699,123 696.7,122 C693,121 691.6,117 691.6,110.7 L689.5,78.8 L697.7,71.6 Z" fill="#fff" stroke-width="1.3"/>
<path d="M691.5,80 L693.5,112" stroke-width="0.9"/>
<circle cx="698.8" cy="115.8" r="1.4" fill="#fff" stroke-width="1.1"/>
<path d="M695.7,36.7 L690,22 C689.5,20.5 690,19.8 691.5,19.5 L702.9,17.2 L709,30.5 L710,35.7 Z" fill="#fff" stroke-width="1.3"/>
<rect x="698.5" y="23.3" width="2.6" height="2.6" transform="rotate(-12 699.8 24.6)" stroke-width="0.9"/>
<path d="M702.9,17.2 L705.5,24 L706.5,36.8" stroke-width="1"/>
<g transform="translate(605.0,159.0) rotate(-54.4)">
<path d="M9.0,-5.0 L29.9,-4.0 L29.9,4.0 L9.0,5.0" fill="#fff" stroke-width="1.3"/>
<path d="M10.0,-6.3 L3.5,-6.3 C0.5,-6.3 0,-3.8 0,0 C0,3.8 0.5,6.3 3.5,6.3 L10.0,6.3 C8.5,3.1 8.5,-3.1 10.0,-6.3 Z" fill="#fff" stroke-width="1.3"/>
<path d="M11.5,-1.9 L13.0,-1.3" stroke-width="0.8"/>
<path d="M29.9,-4.4 L36.9,-3.9 L36.9,3.9 L29.9,4.4 Z" fill="#fff" stroke-width="1.3"/>
<path d="M31.4,-4.2 L32.0,4.2" stroke-width="1"/>
<path d="M33.1,-4.2 L33.7,4.2" stroke-width="1"/>
<path d="M34.8,-4.2 L35.4,4.2" stroke-width="1"/>
</g>
<g transform="translate(653.0,146.0) rotate(-54.8)">
<path d="M9.0,-5.0 L30.3,-4.0 L30.3,4.0 L9.0,5.0" fill="#fff" stroke-width="1.3"/>
<path d="M10.0,-6.3 L3.5,-6.3 C0.5,-6.3 0,-3.8 0,0 C0,3.8 0.5,6.3 3.5,6.3 L10.0,6.3 C8.5,3.1 8.5,-3.1 10.0,-6.3 Z" fill="#fff" stroke-width="1.3"/>
<path d="M11.5,-1.9 L13.0,-1.3" stroke-width="0.8"/>
<path d="M30.3,-4.4 L37.3,-3.9 L37.3,3.9 L30.3,4.4 Z" fill="#fff" stroke-width="1.3"/>
<path d="M31.8,-4.2 L32.4,4.2" stroke-width="1"/>
<path d="M33.5,-4.2 L34.1,4.2" stroke-width="1"/>
<path d="M35.2,-4.2 L35.8,4.2" stroke-width="1"/>
</g>
<g transform="translate(699.5,134.5) rotate(-56.1)">
<path d="M9.0,-5.0 L31.6,-4.0 L31.6,4.0 L9.0,5.0" fill="#fff" stroke-width="1.3"/>
<path d="M10.0,-6.3 L3.5,-6.3 C0.5,-6.3 0,-3.8 0,0 C0,3.8 0.5,6.3 3.5,6.3 L10.0,6.3 C8.5,3.1 8.5,-3.1 10.0,-6.3 Z" fill="#fff" stroke-width="1.3"/>
<path d="M11.5,-1.9 L13.0,-1.3" stroke-width="0.8"/>
<path d="M31.6,-4.4 L38.6,-3.9 L38.6,3.9 L31.6,4.4 Z" fill="#fff" stroke-width="1.3"/>
<path d="M33.1,-4.2 L33.7,4.2" stroke-width="1"/>
<path d="M34.8,-4.2 L35.4,4.2" stroke-width="1"/>
<path d="M36.5,-4.2 L37.1,4.2" stroke-width="1"/>
</g>
<g transform="translate(748.0,122.5) rotate(-57.8)">
<path d="M9.0,-5.0 L31.4,-4.0 L31.4,4.0 L9.0,5.0" fill="#fff" stroke-width="1.3"/>
<path d="M10.0,-6.3 L3.5,-6.3 C0.5,-6.3 0,-3.8 0,0 C0,3.8 0.5,6.3 3.5,6.3 L10.0,6.3 C8.5,3.1 8.5,-3.1 10.0,-6.3 Z" fill="#fff" stroke-width="1.3"/>
<path d="M11.5,-1.9 L13.0,-1.3" stroke-width="0.8"/>
<path d="M31.4,-4.4 L38.4,-3.9 L38.4,3.9 L31.4,4.4 Z" fill="#fff" stroke-width="1.3"/>
<path d="M32.9,-4.2 L33.5,4.2" stroke-width="1"/>
<path d="M34.6,-4.2 L35.2,4.2" stroke-width="1"/>
<path d="M36.3,-4.2 L36.9,4.2" stroke-width="1"/>
</g>
<g transform="translate(502.5,187.5) rotate(-58.8)">
<path d="M9.0,-5.0 L31.6,-4.0 L31.6,4.0 L9.0,5.0" fill="#fff" stroke-width="1.3"/>
<path d="M10.0,-6.3 L3.5,-6.3 C0.5,-6.3 0,-3.8 0,0 C0,3.8 0.5,6.3 3.5,6.3 L10.0,6.3 C8.5,3.1 8.5,-3.1 10.0,-6.3 Z" fill="#fff" stroke-width="1.3"/>
<path d="M11.5,-1.9 L13.0,-1.3" stroke-width="0.8"/>
<path d="M31.6,-4.4 L38.6,-3.9 L38.6,3.9 L31.6,4.4 Z" fill="#fff" stroke-width="1.3"/>
<path d="M33.1,-4.2 L33.7,4.2" stroke-width="1"/>
<path d="M34.8,-4.2 L35.4,4.2" stroke-width="1"/>
<path d="M36.5,-4.2 L37.1,4.2" stroke-width="1"/>
</g>
<g transform="translate(552.0,173.5) rotate(-56.7)">
<path d="M9.0,-5.0 L29.5,-4.0 L29.5,4.0 L9.0,5.0" fill="#fff" stroke-width="1.3"/>
<path d="M10.0,-6.3 L3.5,-6.3 C0.5,-6.3 0,-3.8 0,0 C0,3.8 0.5,6.3 3.5,6.3 L10.0,6.3 C8.5,3.1 8.5,-3.1 10.0,-6.3 Z" fill="#fff" stroke-width="1.3"/>
<path d="M11.5,-1.9 L13.0,-1.3" stroke-width="0.8"/>
<path d="M29.5,-4.4 L36.5,-3.9 L36.5,3.9 L29.5,4.4 Z" fill="#fff" stroke-width="1.3"/>
<path d="M31.0,-4.2 L31.6,4.2" stroke-width="1"/>
<path d="M32.7,-4.2 L33.3,4.2" stroke-width="1"/>
<path d="M34.4,-4.2 L35.0,4.2" stroke-width="1"/>
</g>
<g transform="translate(710.0,180.5) rotate(-55.6)">
<path d="M9.0,-5.0 L35.4,-4.0 L35.4,4.0 L9.0,5.0" fill="#fff" stroke-width="1.3"/>
<path d="M10.0,-6.3 L3.5,-6.3 C0.5,-6.3 0,-3.8 0,0 C0,3.8 0.5,6.3 3.5,6.3 L10.0,6.3 C8.5,3.1 8.5,-3.1 10.0,-6.3 Z" fill="#fff" stroke-width="1.3"/>
<path d="M11.5,-1.9 L13.0,-1.3" stroke-width="0.8"/>
<path d="M35.4,-4.4 L42.4,-3.9 L42.4,3.9 L35.4,4.4 Z" fill="#fff" stroke-width="1.3"/>
<path d="M36.9,-4.2 L37.5,4.2" stroke-width="1"/>
<path d="M38.6,-4.2 L39.2,4.2" stroke-width="1"/>
<path d="M40.3,-4.2 L40.9,4.2" stroke-width="1"/>
</g>
<ellipse cx="734.3" cy="145" rx="4.4" ry="2.9" transform="rotate(34.6 734.3 145)" fill="#fff" stroke-width="1.4"/>
<ellipse cx="734.3" cy="145" rx="2" ry="1.2" transform="rotate(34.6 734.3 145)" stroke-width="1"/>

<!-- misc_top.svg -->
<!-- 488 washer -->
<ellipse cx="634.1" cy="180.7" rx="5.2" ry="5.5" transform="rotate(20 634.1 180.7)" fill="#fff" stroke-width="1.4"/>
<circle cx="633.8" cy="180.7" r="1.9" stroke-width="1.1"/>
<circle cx="633.8" cy="180.7" r="0.6" fill="#000" stroke="none"/>
<!-- 481 bolt -->
<path d="M642.5,184 L650.5,189 L648,194 L640.5,189 C639,187.5 640.5,183.5 642.5,184 Z" fill="#fff" stroke-width="1.3"/>
<path d="M643,185 L641.5,189 M645,186.5 L643.5,190.5 M647,187.8 L645.5,191.8" stroke-width="0.9"/>
<ellipse cx="653.3" cy="192" rx="4.3" ry="4.6" fill="#fff" stroke-width="1.4"/>
<path d="M649.5,188.5 L652,187.8 M649,195.5 L652,196.5" stroke-width="1"/>
<!-- 500 spark plug -->
<g transform="translate(682.3,225.5) rotate(-57)">
<path d="M0,-3.5 L7,-3.5 L7,3.5 L0,3.5 Z" fill="#fff" stroke-width="1.4"/>
<path d="M1.8,-3.5 L1.8,3.5 M3.6,-3.5 L3.6,3.5 M5.4,-3.5 L5.4,3.5" stroke-width="1"/>
<path d="M7,-5 L14,-5 L14,5 L7,5 Z" fill="#fff" stroke-width="1.4"/>
<path d="M14,-6.3 L20,-6.3 L20,6.3 L14,6.3 Z" fill="#fff" stroke-width="1.4"/>
<path d="M16,-6.3 L16,6.3 M18,-6.3 L18,6.3" stroke-width="1"/>
<path d="M20,-4.8 L33,-3.6 L33,3.6 L20,4.8 Z" fill="#fff" stroke-width="1.4"/>
<path d="M33,-1.8 L37.5,-1.8 L37.5,1.8 L33,1.8 Z" fill="#fff" stroke-width="1.2"/>
<ellipse cx="38.8" cy="0" rx="1.5" ry="2.3" fill="#fff" stroke-width="1.3"/>
<ellipse cx="0" cy="0" rx="1" ry="3.5" fill="#fff" stroke-width="1.3"/>
</g>
<!-- 455 grommet -->
<path d="M478,138 L478,142.5 L494.5,142.5 L494.5,138" fill="#fff" stroke-width="1.3"/>
<ellipse cx="486.3" cy="138.3" rx="8.3" ry="3.6" fill="#fff" stroke-width="1.3"/>
<ellipse cx="486.3" cy="137.8" rx="3.2" ry="1.5" stroke-width="1.1"/>
<!-- 461 -->
<path d="M387.3,124.5 C386,129 384,133 383.5,136 C384,140.5 399.5,140.5 400,136 C399.5,133 398,129 397.8,124.5" fill="#fff" stroke-width="1.4"/>
<path d="M384,135 C387,138 396.5,138 399.5,135" stroke-width="1"/>
<path d="M386,119.5 L386,123 C387.5,125.5 396.5,125.5 398,123 L398,119.5" fill="#fff" stroke-width="1.3"/>
<ellipse cx="392" cy="119.3" rx="6" ry="2.7" fill="#fff" stroke-width="1.4"/>
<ellipse cx="392" cy="119.8" rx="3.6" ry="1.4" stroke-width="1.1"/>
<!-- 430 clip -->
<path d="M329,222 C326.5,225 326.5,232 329,234.5 L331.5,234" stroke-width="1.2"/>
<ellipse cx="333.5" cy="228" rx="3.3" ry="7.5" transform="rotate(-8 333.5 228)" fill="#fff" stroke-width="1.3"/>
<path d="M332.5,222 C331,226 331,230 333,235" stroke-width="1"/>
<path d="M329,222 L333,220.5" stroke-width="1.1"/>

<!-- small_bottom.svg -->
<!-- 196 -->
<path d="M221,464.5 C221,462.5 225,461.5 227.5,463 L228,470 C225,471 221.5,470 221.3,468 Z" fill="#fff" stroke-width="1.3"/>
<path d="M222.5,463 L222.5,469.5 M224.5,462.5 L224.5,470.2" stroke-width="1"/>
<ellipse cx="230" cy="467" rx="4" ry="4.6" fill="#fff" stroke-width="1.3"/>
<!-- 227 -->
<path d="M210,485.5 C210,484 211,483.5 212.5,483.8 L214.5,484.5 C215.5,485 215.8,486 215.8,487 L215.5,493 L217,495 C218.5,497 217.8,499.8 215.5,499.8 C213.5,499.8 212.5,498.5 212.8,497 L210.5,495 Z" fill="#fff" stroke-width="1.3"/>
<circle cx="212.9" cy="488" r="1.1" stroke-width="1"/>
<circle cx="215.3" cy="497.3" r="1" stroke-width="1"/>
<path d="M210.5,494.5 L215.5,493.5" stroke-width="0.9"/>
<!-- 268 washer -->
<ellipse cx="191" cy="523" rx="7.3" ry="3.6" fill="#fff" stroke-width="1.3"/>
<ellipse cx="191" cy="522.5" rx="4" ry="1.8" stroke-width="1.1"/>
<path d="M184,523.5 C185,526.5 197,526.8 198.2,523.5" stroke-width="1"/>
<!-- 275 washer -->
<ellipse cx="191" cy="536" rx="7.3" ry="3.2" fill="#fff" stroke-width="1.3"/>
<ellipse cx="191" cy="535.7" rx="3.9" ry="1.6" stroke-width="1.1"/>
<!-- 261 collar -->
<path d="M181.5,550 L181.5,562 C182,564 186,566 190,566.5 L191,569 L193,566 C197,565.5 199.7,563.5 199.7,561.5 L199.7,550" fill="#fff" stroke-width="1.3"/>
<ellipse cx="190.6" cy="549.8" rx="9.1" ry="4.2" fill="#fff" stroke-width="1.3"/>
<ellipse cx="190.6" cy="548.8" rx="2.6" ry="1.3" stroke-width="1"/>
<path d="M181.5,555.5 C184,558.5 197,558.5 199.7,555.5 M181.5,557 C184,560 197,560 199.7,557 M181.5,560.5 C184,563.5 197,563.5 199.7,560.5" stroke-width="1"/>
<path d="M184,556.8 L184,559.5 M187,557.5 L187,560 M190,558 L190,560.5 M193,557.8 L193,560.3 M196,557.2 L196,559.8" stroke-width="0.8"/>
<!-- 282 pin -->
<path d="M204.5,560 L212.5,564.5" stroke-width="3.2"/>
<path d="M204.5,560 L212.5,564.5" stroke="#fff" stroke-width="1"/>
<!-- 289 spring -->
<path d="M182,575.5 C182,572.5 199,572.5 199,575.5 C199,577.5 190,578.5 184,577.5" stroke-width="1.3"/>
<path d="M182,578.5 C182,575.5 199,575.5 199,578.5 C199,580.5 190,581.5 184,580.5" stroke-width="1.3"/>
<path d="M182.5,581.5 C182.5,579 198.5,579 198.5,581.5 C198.5,584 182.5,584 182.5,581.5 Z" stroke-width="1.3"/>
<ellipse cx="190.5" cy="577.5" rx="4.5" ry="1.3" stroke-width="1"/>

<!-- small_left.svg -->
<!-- 221 clip -->
<path d="M123,403 C119,406 117.5,411 117.8,416 C118,420 119.5,424 122,426 C124,427.5 125.5,426 124.5,424.5 C122.5,422 121.5,419 121.5,415.5 C121.5,411 123,407.5 126,405 L125.5,402 C125,400.5 123.5,401 123,403 Z" fill="#fff" stroke-width="1.3"/>
<path d="M124.5,403 L125.5,407" stroke-width="1"/>
<!-- 233 plate -->
<path d="M141.5,421 C141,419 143,417.5 145,418 L147,419 L146.5,423 L145,425.5 L145.5,434 C145.5,438 143,441.5 140,442 C137.5,442.5 136.5,440.5 137,438 L139,425 Z" fill="#fff" stroke-width="1.3"/>
<circle cx="142.3" cy="427.7" r="0.9" stroke-width="0.9"/>
<path d="M140.5,432 C141,430.5 143,430.8 142.8,432.5 L142,437.5 C141.7,439 139.7,439 139.9,437.5 Z" stroke-width="1"/>
<!-- 240 condenser -->
<path d="M135.5,466 L135.5,483.5 C135.5,486.5 146.8,486.5 146.8,483.5 L146.8,466" fill="#fff" stroke-width="1.3"/>
<ellipse cx="141.2" cy="466" rx="5.7" ry="2.3" fill="#fff" stroke-width="1.3"/>
<path d="M132.3,460 L131.8,470 C131.7,475 133,478 135.5,479" stroke-width="1.1"/>
<circle cx="132.3" cy="458.8" r="1.6" fill="#000" stroke="none"/>
<!-- 247 clamp -->
<path d="M126.5,497 L129.5,494 L136,498 L136,505 C136,509.5 147,509.5 147,505 L147,503 L150.5,504 L150.5,510.5 L147,510 L136,508.5 L133,503 L127,500 Z" fill="#fff" stroke-width="1.3"/>
<path d="M136,502 L136,499 C136,495 147,495 147,499 L147,505" fill="#fff" stroke-width="1.3"/>
<ellipse cx="141.5" cy="499" rx="5.5" ry="2.1" stroke-width="1"/>
<circle cx="130" cy="497.5" r="0.9" stroke-width="0.9"/>
<circle cx="148.8" cy="507" r="0.9" stroke-width="0.9"/>

</g>
<g id="labels" stroke="none">
<text transform="translate(126.6,34.4) scale(0.9,1)">417</text>
<text transform="translate(89.3,104.0) scale(0.9,1)">423</text>
<text transform="translate(535.1,79.6) scale(0.9,1)">443</text>
<text transform="translate(401.3,134.0) scale(0.9,1)">461</text>
<text transform="translate(477.6,157.7) scale(0.9,1)">455</text>
<text transform="translate(735.2,164.0) scale(0.9,1)">449</text>
<text transform="translate(616.2,197.8) scale(0.9,1)">488</text>
<text transform="translate(639.6,208.0) scale(0.9,1)">481</text>
<text transform="translate(694.2,231.8) scale(0.9,1)">500</text>
<text transform="translate(152.1,214.0) scale(0.9,1)">185</text>
<text transform="translate(264.6,248.6) scale(0.9,1)">396</text>
<text transform="translate(199.1,256.0) scale(0.9,1)">192</text>
<text transform="translate(324.7,216.5) scale(0.9,1)">430</text>
<text transform="translate(95.0,285.3) scale(0.9,1)">437</text>
<text transform="translate(205.3,290.7) scale(0.9,1)">215</text>
<text transform="translate(217.6,319.2) scale(0.9,1)">208</text>
<text transform="translate(186.4,344.5) scale(0.9,1)">203</text>
<text transform="translate(149.5,397.1) scale(0.9,1)">179</text>
<text transform="translate(99.5,421.8) scale(0.9,1)">221</text>
<text transform="translate(117.6,445.0) scale(0.9,1)">233</text>
<text transform="translate(235.1,471.1) scale(0.9,1)">196</text>
<text transform="translate(112.5,480.3) scale(0.9,1)">240</text>
<text transform="translate(221.4,500.7) scale(0.9,1)">227</text>
<text transform="translate(130.6,521.2) scale(0.9,1)">247</text>
<text transform="translate(163.8,526.4) scale(0.9,1)">268</text>
<text transform="translate(163.8,540.3) scale(0.9,1)">275</text>
<text transform="translate(161.8,559.7) scale(0.9,1)">261</text>
<text transform="translate(216.2,565.8) scale(0.9,1)">282</text>
<text transform="translate(162.8,580.2) scale(0.9,1)">289</text>
<text transform="translate(318.8,369.2) scale(0.9,1)">403</text>
<text transform="translate(314.6,391.8) scale(0.9,1)">410</text>
<text transform="translate(415.1,382.7) scale(0.9,1)">314</text>
<text transform="translate(350.6,410.9) scale(0.9,1)">307</text>
<text transform="translate(275.0,450.0) scale(0.9,1)">255</text>
<text transform="translate(364.4,450.2) scale(0.9,1)">301</text>
<text transform="translate(308.2,494.2) scale(0.9,1)">387</text>
<text transform="translate(364.3,492.2) scale(0.9,1)">349</text>
<text transform="translate(394.6,488.5) scale(0.9,1)">356</text>
<text transform="translate(380.3,568.2) scale(0.9,1)">380</text>
<text transform="translate(411.2,560.4) scale(0.9,1)">373</text>
<text transform="translate(449.2,554.7) scale(0.9,1)">296</text>
<text transform="translate(455.6,314.3) scale(0.9,1)">474</text>
<text transform="translate(447.7,346.2) scale(0.9,1)">335</text>
<text transform="translate(487.4,365.9) scale(0.9,1)">321</text>
<text transform="translate(453.5,392.0) scale(0.9,1)">342</text>
<text transform="translate(579.2,279.0) scale(0.9,1)">468</text>
<text transform="translate(577.9,498.0) scale(0.9,1)">369</text>
<text transform="translate(537.5,531.0) scale(0.9,1)">363</text>
</g>
<rect x="458.8" y="145.5" width="49.2" height="27.7" fill="none" stroke="#f00" stroke-width="5.5"/>
</svg>
</body></html>
